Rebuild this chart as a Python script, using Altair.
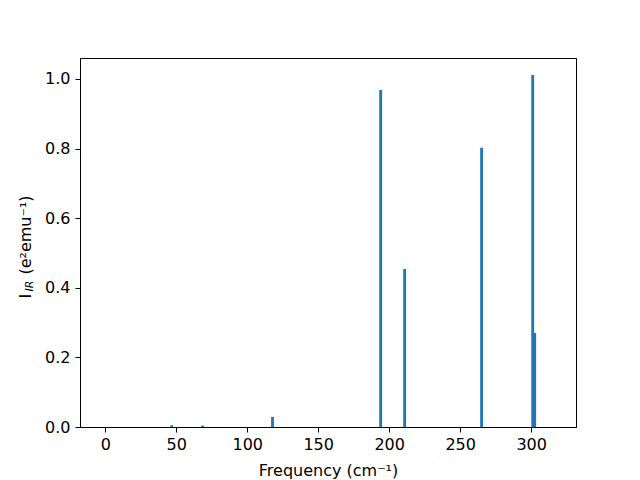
import altair as alt
import pandas as pd

freq = [46.8, 68.5, 117.8, 194.0, 210.9, 265.1, 301.1, 302.5]
intensity = [0.005, 0.004, 0.029, 0.968, 0.454, 0.802, 1.011, 0.270]
x_ticks = [0, 50, 100, 150, 200, 250, 300]
y_ticks = [0.0, 0.2, 0.4, 0.6, 0.8, 1.0]

df = pd.DataFrame({"freq": freq, "intensity": intensity})
one = pd.DataFrame({"k": [0]})

FONT = "DejaVu Sans"
FS = 16

bars = alt.Chart(df).transform_calculate(
    x0="datum.freq - 1", x1="datum.freq + 1", base="0"
).mark_bar(color="#1f77b4").encode(
    x=alt.X("x0:Q", scale=alt.Scale(domain=[-17.8, 331.6], nice=False, zero=False),
            axis=alt.Axis(values=x_ticks, title="Frequency (cm⁻¹)", grid=False,
                          format="d", tickSize=5, labelPadding=4, titlePadding=10,
                          labelFontSize=FS, titleFontSize=FS, labelFont=FONT,
                          titleFont=FONT, titleFontWeight="normal",
                          labelColor="black", titleColor="black",
                          domainColor="black", tickColor="black")),
    x2="x1:Q",
    y=alt.Y("intensity:Q", scale=alt.Scale(domain=[0, 1.06], nice=False),
            axis=alt.Axis(values=y_ticks, title=None, grid=False, format=".1f",
                          tickSize=5, labelPadding=5, labelFontSize=FS,
                          labelFont=FONT, labelColor="black",
                          domainColor="black", tickColor="black")),
    y2="base:Q",
)

t_main = alt.Chart(one).mark_text(
    text="(e²emu⁻¹)", angle=270, align="center", baseline="alphabetic",
    font=FONT, fontSize=FS, color="black"
).encode(x=alt.value(-49), y=alt.value(177))

t_I = alt.Chart(one).mark_text(
    text="I", angle=270, align="left", baseline="alphabetic",
    font=FONT, fontSize=FS, color="black"
).encode(x=alt.value(-49), y=alt.value(240.5))

t_sub = alt.Chart(one).mark_text(
    text="IR", angle=270, align="left", baseline="alphabetic",
    font=FONT, fontSize=11, fontStyle="italic", color="black"
).encode(x=alt.value(-47), y=alt.value(233.5))

chart = alt.layer(bars, t_main, t_I, t_sub).properties(
    width=496, height=369,
    autosize=alt.AutoSizeParams(type="none"),
    padding={"left": 72, "top": 50, "right": 56, "bottom": 53},
).configure_view(stroke="black", strokeWidth=1)

chart.save("out.html", embed_options={"renderer": "svg", "actions": False})
